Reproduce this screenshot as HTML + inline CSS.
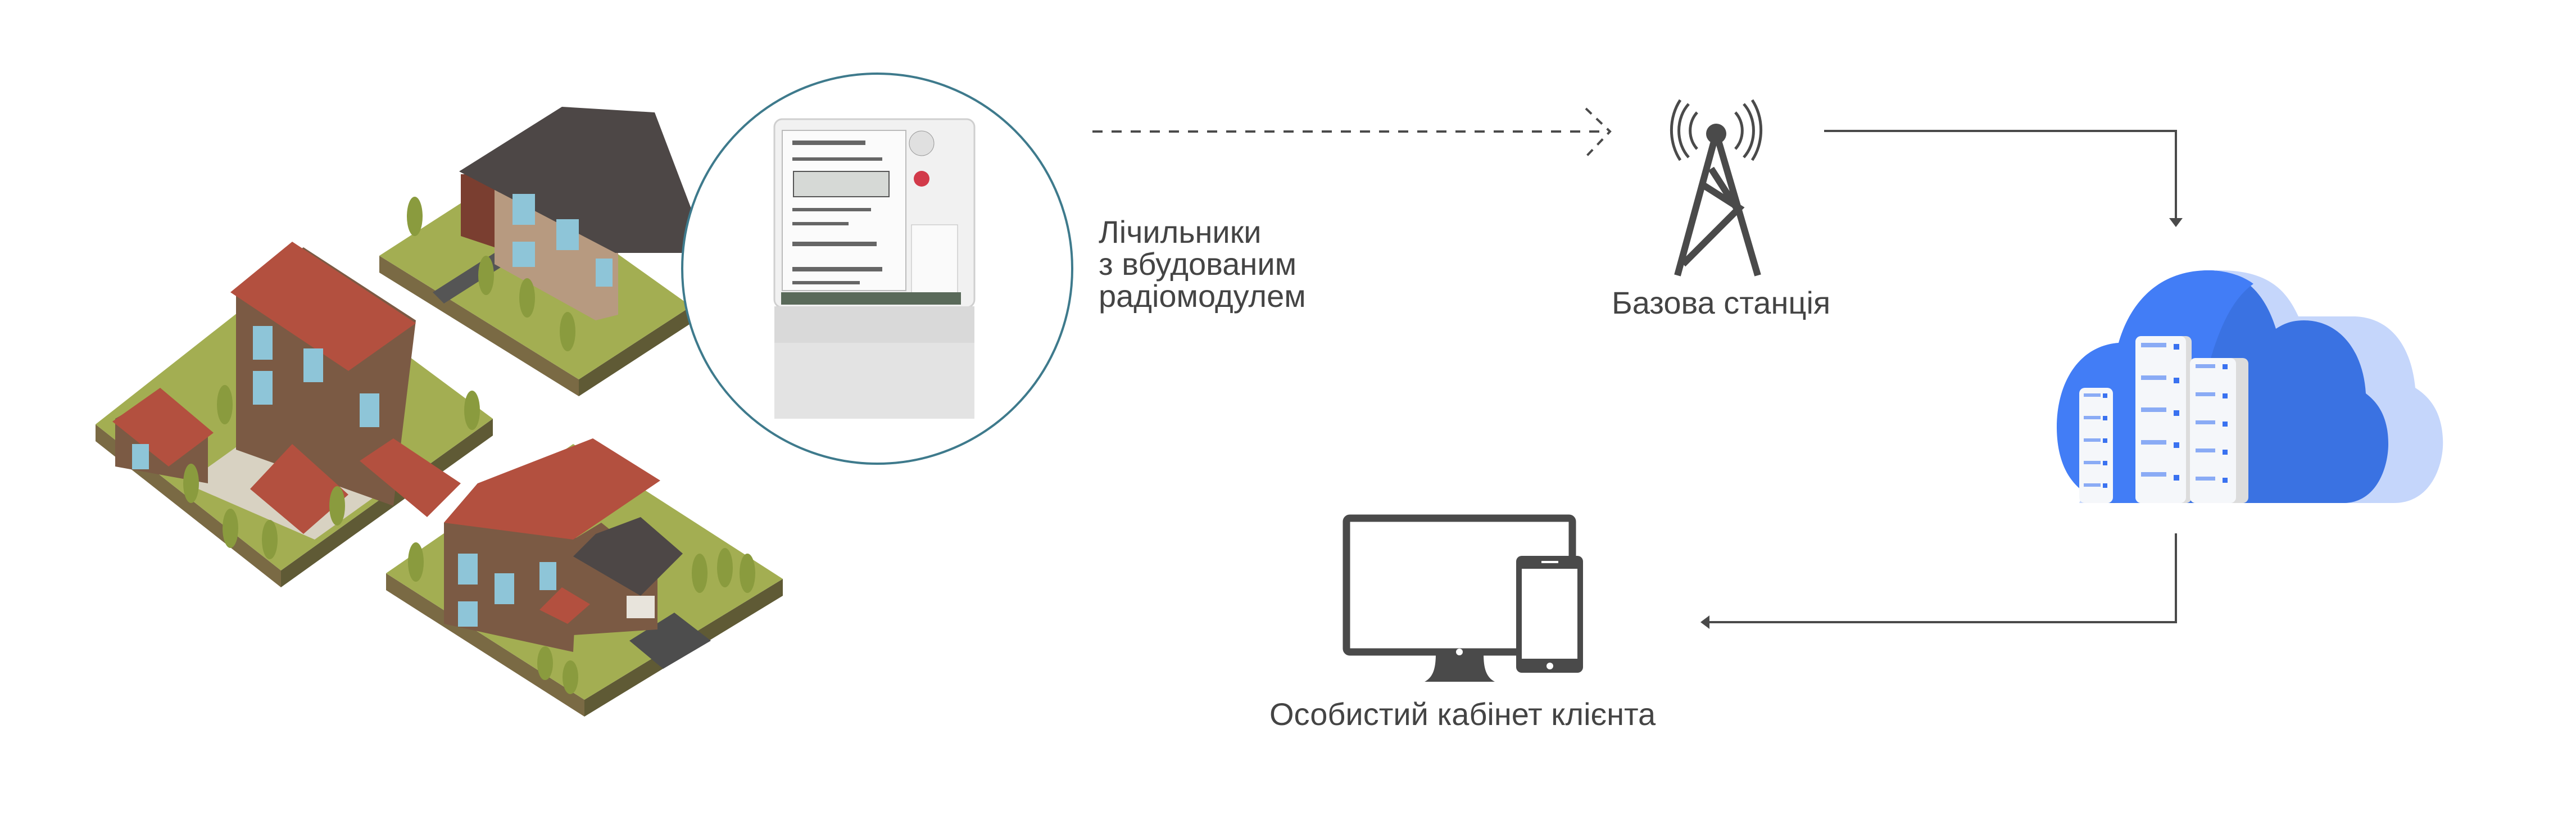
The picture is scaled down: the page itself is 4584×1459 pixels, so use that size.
<!DOCTYPE html>
<html><head><meta charset="utf-8"><style>
html,body{margin:0;padding:0;background:#fff;}
svg{display:block}
text{font-family:"Liberation Sans Narrow","Liberation Sans",sans-serif;fill:#444;}
</style></head><body>
<svg width="4584" height="1459" viewBox="0 0 4584 1459" xmlns="http://www.w3.org/2000/svg">
<!-- Tile 2 (left) -->
<polygon points="170,755 500,1015 500,1045 170,785" fill="#7a6a44"/>
<polygon points="500,1015 877,745 877,775 500,1045" fill="#5f5a35"/>
<polygon points="170,755 520,480 877,745 500,1015" fill="#a3ae52"/>
<polygon points="330,860 470,760 700,860 560,960" fill="#d8d2c2"/>
<!-- house left -->
<polygon points="420,520 540,440 740,570 700,900 420,800" fill="#7b5a44"/>
<polygon points="410,520 520,430 740,575 620,660" fill="#b3503f"/>
<polygon points="205,745 285,700 370,770 370,860 205,830" fill="#7b5a44"/>
<polygon points="200,750 285,690 380,770 300,830" fill="#b3503f"/>
<polygon points="445,870 520,790 620,880 540,950" fill="#b3503f"/>
<polygon points="640,820 700,780 820,860 760,920" fill="#b3503f"/>
<g fill="#8ec5d8"><rect x="450" y="580" width="35" height="60"/><rect x="450" y="660" width="35" height="60"/><rect x="540" y="620" width="35" height="60"/><rect x="640" y="700" width="35" height="60"/><rect x="235" y="790" width="30" height="45"/></g>
<g fill="#8a9b3e"><ellipse cx="400" cy="720" rx="14" ry="35"/><ellipse cx="340" cy="860" rx="14" ry="35"/><ellipse cx="410" cy="940" rx="14" ry="35"/><ellipse cx="480" cy="960" rx="14" ry="35"/><ellipse cx="600" cy="900" rx="14" ry="35"/><ellipse cx="840" cy="730" rx="14" ry="35"/></g>
<!-- Tile 1 (top) -->
<polygon points="675,455 1030,675 1030,705 675,485" fill="#7a6a44"/>
<polygon points="1030,675 1230,545 1230,575 1030,705" fill="#5f5a35"/>
<polygon points="675,455 900,310 1230,545 1030,675" fill="#a3ae52"/>
<polygon points="770,520 880,450 900,470 790,540" fill="#555"/>
<polygon points="820,310 880,310 880,440 820,420" fill="#7a3e30"/>
<polygon points="880,330 1100,400 1100,560 1060,570 880,470" fill="#b79a80"/>
<polygon points="817,305 1000,190 1165,200 1260,450 1095,450" fill="#4d4746"/>
<g fill="#8ec5d8"><rect x="912" y="345" width="40" height="55"/><rect x="990" y="390" width="40" height="55"/><rect x="912" y="430" width="40" height="45"/><rect x="1060" y="460" width="30" height="50"/></g>
<g fill="#8a9b3e"><ellipse cx="738" cy="385" rx="14" ry="35"/><ellipse cx="865" cy="490" rx="14" ry="35"/><ellipse cx="938" cy="530" rx="14" ry="35"/><ellipse cx="1010" cy="590" rx="14" ry="35"/></g>
<!-- Tile 3 (bottom) -->
<polygon points="687,1050 1040,1275 1040,1245 687,1020" fill="#7a6a44"/>
<polygon points="1040,1245 1393,1030 1393,1060 1040,1275" fill="#5f5a35"/>
<polygon points="687,1020 1020,790 1393,1030 1040,1245" fill="#a3ae52"/>
<polygon points="1120,1140 1200,1090 1265,1140 1180,1190" fill="#4d4d4d"/>
<polygon points="790,930 850,860 1030,960 1020,1160 790,1110" fill="#7b5a44"/>
<polygon points="790,930 850,860 1055,780 1175,855 1020,960" fill="#b3503f"/>
<polygon points="1020,960 1070,930 1170,1010 1170,1120 1020,1130" fill="#7b5a44"/>
<polygon points="1020,990 1060,950 1140,920 1215,985 1140,1060" fill="#4d4746"/>
<polygon points="960,1085 1000,1045 1050,1075 1010,1110" fill="#b3503f"/>
<rect x="1115" y="1060" width="50" height="40" fill="#e8e4dc"/>
<g fill="#8ec5d8"><rect x="815" y="985" width="35" height="55"/><rect x="880" y="1020" width="35" height="55"/><rect x="815" y="1070" width="35" height="45"/><rect x="960" y="1000" width="30" height="50"/></g>
<g fill="#8a9b3e"><ellipse cx="740" cy="1000" rx="14" ry="35"/><ellipse cx="970" cy="1180" rx="14" ry="30"/><ellipse cx="1015" cy="1205" rx="14" ry="30"/><ellipse cx="1245" cy="1020" rx="14" ry="35"/><ellipse cx="1290" cy="1010" rx="14" ry="35"/><ellipse cx="1330" cy="1020" rx="14" ry="35"/></g>
<!-- Circle with meter -->
<circle cx="1561" cy="478" r="347" fill="#fff" stroke="#3e7a8c" stroke-width="4"/>
<rect x="1378" y="212" width="356" height="335" rx="14" fill="#f1f1f1" stroke="#cfcfcf" stroke-width="3"/>
<rect x="1392" y="232" width="220" height="285" fill="#fbfbfb" stroke="#bbb" stroke-width="2"/>
<rect x="1412" y="305" width="170" height="45" fill="#d6d9d6" stroke="#555" stroke-width="2"/>
<g fill="#666"><rect x="1410" y="250" width="130" height="8"/><rect x="1410" y="280" width="160" height="6"/><rect x="1410" y="370" width="140" height="6"/><rect x="1410" y="395" width="100" height="6"/><rect x="1410" y="430" width="150" height="8"/><rect x="1410" y="475" width="160" height="8"/><rect x="1410" y="500" width="120" height="6"/></g>
<circle cx="1640" cy="255" r="22" fill="#e0e0e0" stroke="#999"/>
<circle cx="1640" cy="318" r="14" fill="#d23a4a"/>
<rect x="1622" y="400" width="82" height="135" fill="#fafafa" stroke="#bbb"/>
<rect x="1390" y="520" width="320" height="22" fill="#5a6a5a"/>
<rect x="1378" y="545" width="356" height="200" fill="#e3e3e3"/>
<rect x="1378" y="545" width="356" height="65" fill="#d9d9d9"/>
<!-- Meter label -->
<text x="1955" y="432" font-size="56">Лічильники</text>
<text x="1955" y="489" font-size="56">з вбудованим</text>
<text x="1955" y="546" font-size="56">радіомодулем</text>
<!-- dashed line -->
<line x1="1944" y1="234" x2="2862" y2="234" stroke="#4a4a4a" stroke-width="4" stroke-dasharray="18,16"/>
<polyline points="2822,193 2865,234 2822,279" fill="none" stroke="#4a4a4a" stroke-width="4" stroke-dasharray="14,12"/>
<!-- tower -->
<g stroke="#4a4a4a" fill="none" stroke-linecap="butt">
<path d="M3054,237 L2985,490 M3054,237 L3128,490 M3045,300 L3090,370 M3032,330 L3095,370 L2995,470" stroke-width="12"/>
<path d="M3020,200 A40,45 0 0 0 3020,265 M3088,200 A40,45 0 0 1 3088,265" stroke-width="5"/>
<path d="M3005,185 A55,65 0 0 0 3005,280 M3103,185 A55,65 0 0 1 3103,280" stroke-width="5"/>
<path d="M2990,178 A70,85 0 0 0 2990,285 M3118,178 A70,85 0 0 1 3118,285" stroke-width="5"/>
</g>
<circle cx="3054" cy="238" r="18" fill="#4a4a4a"/>
<text x="2868" y="558" font-size="56">Базова станція</text>
<!-- arrow to cloud -->
<polyline points="3246,233 3872,233 3872,392" fill="none" stroke="#4a4a4a" stroke-width="4"/>
<polygon points="3860,388 3884,388 3872,404" fill="#4a4a4a"/>
<!-- cloud -->
<path d="M3700,895 L4260,895 C4330,895 4350,820 4347,780 C4345,740 4330,710 4298,690 C4290,610 4250,565 4190,563 L4090,563 C4070,520 4040,481 3950,481 C3900,481 3850,530 3830,600 Z" fill="#c5d6fb"/>
<path d="M3650,895 L4170,895 C4230,895 4250,830 4250,790 C4250,740 4230,715 4210,700 C4205,620 4160,570 4100,570 C4080,570 4065,575 4050,585 C4030,520 3990,481 3930,481 C3850,481 3800,560 3790,610 C3710,620 3680,700 3680,760 C3680,840 3700,895 3760,895 Z" fill="#3a72e2"/>
<path d="M3780,895 C3690,895 3660,830 3660,760 C3660,680 3700,615 3770,610 C3790,540 3840,481 3930,481 C3960,481 3990,490 4010,505 C3960,540 3940,620 3930,650 C3880,660 3850,720 3850,780 C3850,850 3870,895 3900,895 Z" fill="#427df6"/>
<rect x="3700" y="690" width="60" height="205" rx="10" fill="#f5f7fa"/>
<rect x="3800" y="598" width="100" height="297" rx="10" fill="#dcdcdc"/>
<rect x="3800" y="598" width="90" height="297" rx="10" fill="#f5f7fa"/>
<rect x="3897" y="637" width="104" height="258" rx="10" fill="#dcdcdc"/>
<rect x="3897" y="637" width="82" height="258" rx="10" fill="#f5f7fa"/>
<g fill="#8aabf5">
<rect x="3708" y="700" width="30" height="6"/><rect x="3708" y="740" width="30" height="6"/><rect x="3708" y="780" width="30" height="6"/><rect x="3708" y="820" width="30" height="6"/><rect x="3708" y="860" width="30" height="6"/>
<rect x="3810" y="610" width="45" height="8"/><rect x="3810" y="668" width="45" height="8"/><rect x="3810" y="725" width="45" height="8"/><rect x="3810" y="783" width="45" height="8"/><rect x="3810" y="840" width="45" height="8"/>
<rect x="3907" y="648" width="35" height="7"/><rect x="3907" y="698" width="35" height="7"/><rect x="3907" y="748" width="35" height="7"/><rect x="3907" y="798" width="35" height="7"/><rect x="3907" y="848" width="35" height="7"/>
</g>
<g fill="#3a72f0">
<rect x="3868" y="612" width="10" height="10"/><rect x="3868" y="672" width="10" height="10"/><rect x="3868" y="730" width="10" height="10"/><rect x="3868" y="787" width="10" height="10"/><rect x="3868" y="845" width="10" height="10"/>
<rect x="3955" y="648" width="9" height="9"/><rect x="3955" y="700" width="9" height="9"/><rect x="3955" y="750" width="9" height="9"/><rect x="3955" y="800" width="9" height="9"/><rect x="3955" y="850" width="9" height="9"/>
<rect x="3742" y="700" width="8" height="8"/><rect x="3742" y="740" width="8" height="8"/><rect x="3742" y="780" width="8" height="8"/><rect x="3742" y="820" width="8" height="8"/><rect x="3742" y="860" width="8" height="8"/>
</g>
<!-- return arrow -->
<polyline points="3872,949 3872,1107 3036,1107" fill="none" stroke="#4a4a4a" stroke-width="4"/>
<polygon points="3026,1107 3042,1095 3042,1119" fill="#4a4a4a"/>
<!-- monitor -->
<rect x="2396" y="922" width="402" height="238" rx="6" fill="none" stroke="#4a4a4a" stroke-width="13"/>
<path d="M2555,1163 L2640,1163 C2640,1190 2645,1205 2660,1213 L2535,1213 C2550,1205 2555,1190 2555,1163 Z" fill="#4a4a4a"/>
<circle cx="2597" cy="1160" r="6" fill="#fff"/>
<rect x="2698" y="989" width="119" height="208" rx="10" fill="#4a4a4a"/>
<rect x="2708" y="1012" width="99" height="160" fill="#fff"/>
<rect x="2743" y="998" width="30" height="4" fill="#fff"/>
<circle cx="2758" cy="1185" r="6" fill="#fff"/>
<text x="2259" y="1290" font-size="56">Особистий кабінет клієнта</text>
</svg>
</body></html>
